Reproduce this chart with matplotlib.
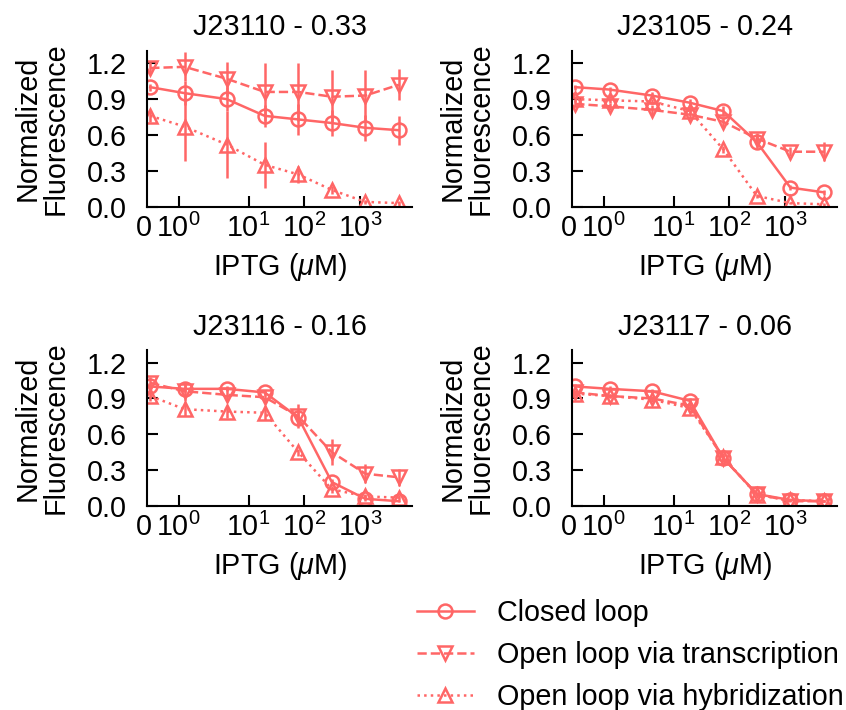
import numpy as np
import matplotlib
matplotlib.use("Agg")
import matplotlib.pyplot as plt
import matplotlib.transforms as mtransforms

# ---------------------
# Data
# ---------------------
iptg = [0, 1.22, 4.88, 19.5, 78.1, 312.5, 1250, 5000]

titles = ["J23110 - 0.33", "J23105 - 0.24", "J23116 - 0.16", "J23117 - 0.06"]
labels = ["Closed loop", "Open loop via transcription", "Open loop via hybridization"]

closed_mean = [
    [1.00, 0.95, 0.90, 0.76, 0.73, 0.70, 0.66, 0.64],
    [1.00, 0.98, 0.93, 0.87, 0.80, 0.54, 0.16, 0.12],
    [1.00, 0.98, 0.98, 0.95, 0.74, 0.20, 0.06, 0.04],
    [1.00, 0.98, 0.96, 0.88, 0.40, 0.10, 0.05, 0.04],
]
closed_err = [
    [0.03, 0.10, 0.10, 0.09, 0.13, 0.11, 0.11, 0.12],
    [0.02, 0.02, 0.03, 0.03, 0.04, 0.05, 0.02, 0.02],
    [0.03, 0.03, 0.02, 0.02, 0.05, 0.03, 0.02, 0.01],
    [0.02, 0.02, 0.02, 0.02, 0.03, 0.02, 0.01, 0.01],
]
trans_mean = [
    [1.16, 1.17, 1.07, 0.96, 0.96, 0.92, 0.93, 1.02],
    [0.86, 0.84, 0.81, 0.77, 0.71, 0.57, 0.46, 0.46],
    [1.03, 0.96, 0.93, 0.91, 0.75, 0.45, 0.27, 0.24],
    [0.95, 0.92, 0.90, 0.84, 0.40, 0.10, 0.04, 0.04],
]
trans_err = [
    [0.05, 0.12, 0.14, 0.24, 0.24, 0.22, 0.21, 0.13],
    [0.03, 0.03, 0.04, 0.03, 0.04, 0.05, 0.04, 0.08],
    [0.05, 0.08, 0.05, 0.04, 0.10, 0.11, 0.08, 0.07],
    [0.02, 0.02, 0.02, 0.02, 0.03, 0.02, 0.01, 0.01],
]
hyb_mean = [
    [0.76, 0.67, 0.52, 0.35, 0.27, 0.14, 0.04, 0.03],
    [0.90, 0.89, 0.88, 0.80, 0.48, 0.09, 0.03, 0.02],
    [0.92, 0.81, 0.79, 0.78, 0.45, 0.14, 0.08, 0.07],
    [0.94, 0.92, 0.89, 0.82, 0.41, 0.09, 0.05, 0.04],
]
hyb_err = [
    [0.05, 0.29, 0.28, 0.19, 0.07, 0.03, 0.02, 0.02],
    [0.02, 0.02, 0.02, 0.03, 0.03, 0.02, 0.01, 0.01],
    [0.04, 0.06, 0.05, 0.06, 0.03, 0.03, 0.02, 0.02],
    [0.02, 0.02, 0.02, 0.02, 0.03, 0.02, 0.01, 0.01],
]

xticks = [0, 1, 10, 100, 1000]
xticklabels = ["0", "$10^{0}$", "$10^{1}$", "$10^{2}$", "$10^{3}$"]
yticks = [0.0, 0.3, 0.6, 0.9, 1.2]

# ---------------------
# Style
# ---------------------
COLOR = "#ff6666"
FS = 20.7
LW = 1.8
plt.rcParams["font.family"] = ["Liberation Sans", "DejaVu Sans"]
plt.rcParams["mathtext.fontset"] = "custom"
plt.rcParams["mathtext.rm"] = "Liberation Sans"
plt.rcParams["mathtext.it"] = "Liberation Sans:italic"
plt.rcParams["font.size"] = FS

# x axis: linear below 1, stretched first decade, log above 10
K0 = 0.508
K1 = 1.257


def fwd(x):
    x = np.asarray(x, dtype=float)
    return np.where(
        x < 1, x * K0,
        np.where(x < 10, K0 + K1 * np.log10(np.clip(x, 1, None)),
                 K0 + K1 + np.log10(np.clip(x, 10, None) / 10)))


def inv(y):
    y = np.asarray(y, dtype=float)
    return np.where(
        y < K0, y / K0,
        np.where(y < K0 + K1, 10 ** ((np.clip(y, K0, None) - K0) / K1),
                 10 * 10 ** (np.clip(y, K0 + K1, None) - K0 - K1)))


fig = plt.figure(figsize=(8.46, 7.10), dpi=100)
W, H = 846, 710
boxes = [(147.3, 50.7), (572.3, 50.7), (147.3, 350.0), (572.3, 350.0)]
AW, AH = 264.7, 156.0

series = [
    (closed_mean, closed_err, "-", "o"),
    (trans_mean, trans_err, "--", "v"),
    (hyb_mean, hyb_err, ":", "^"),
]

handles = []
for i, (left, top) in enumerate(boxes):
    ax = fig.add_axes([left / W, (H - top - AH) / H, AW / W, AH / H])
    ax.set_xscale("function", functions=(fwd, inv))
    for k, (means, errs, ls, mk) in enumerate(series):
        ax.errorbar(iptg, means[i], yerr=errs[i], fmt="none",
                    ecolor=COLOR, elinewidth=LW, capsize=0)
        ln, = ax.plot(iptg, means[i], linestyle=ls, marker=mk, color=COLOR,
                      lw=LW, markersize=10, mew=LW, mfc="none",
                      label=labels[k])
        if i == 0:
            handles.append(ln)

    ax.set_xlim(-0.104, 8590)
    ax.set_ylim(0, 1.305)
    ax.set_xticks(xticks)
    ax.set_xticklabels(xticklabels)
    ax.xaxis.set_minor_locator(matplotlib.ticker.NullLocator())
    ax.set_yticks(yticks)
    ax.set_yticklabels([f"{v:.1f}" for v in yticks])

    for s in ["top", "right"]:
        ax.spines[s].set_visible(False)
    for s in ["left", "bottom"]:
        ax.spines[s].set_linewidth(1.5)
    ax.tick_params(axis="both", direction="in", length=8, width=1.5,
                   labelsize=FS)
    ax.tick_params(axis="y", pad=15)
    ax.tick_params(axis="x", pad=5)

    # the "0" label sits just left of the 10^0 label
    zero_tick = ax.xaxis.get_major_ticks()[0]
    zero_tick.tick1line.set_visible(False)
    shift = mtransforms.ScaledTranslation(-0.06, 0, fig.dpi_scale_trans)
    zero_tick.label1.set_transform(zero_tick.label1.get_transform() + shift)

    ax.set_title(titles[i], fontsize=FS, pad=11)
    ax.set_xlabel(r"IPTG ($\mu$M)", fontsize=FS, labelpad=6)
    ax.set_ylabel("Normalized\nFluorescence", fontsize=FS, linespacing=1.0,
                  labelpad=12)

fig.legend(handles=handles, loc="center left",
           bbox_to_anchor=(416.7 / W, (H - 655) / H),
           frameon=False, fontsize=FS, handlelength=2.0, handletextpad=0.8,
           labelspacing=0.5, borderpad=0, borderaxespad=0, numpoints=1)

fig.savefig("out.png", dpi=100)
plt.close(fig)
